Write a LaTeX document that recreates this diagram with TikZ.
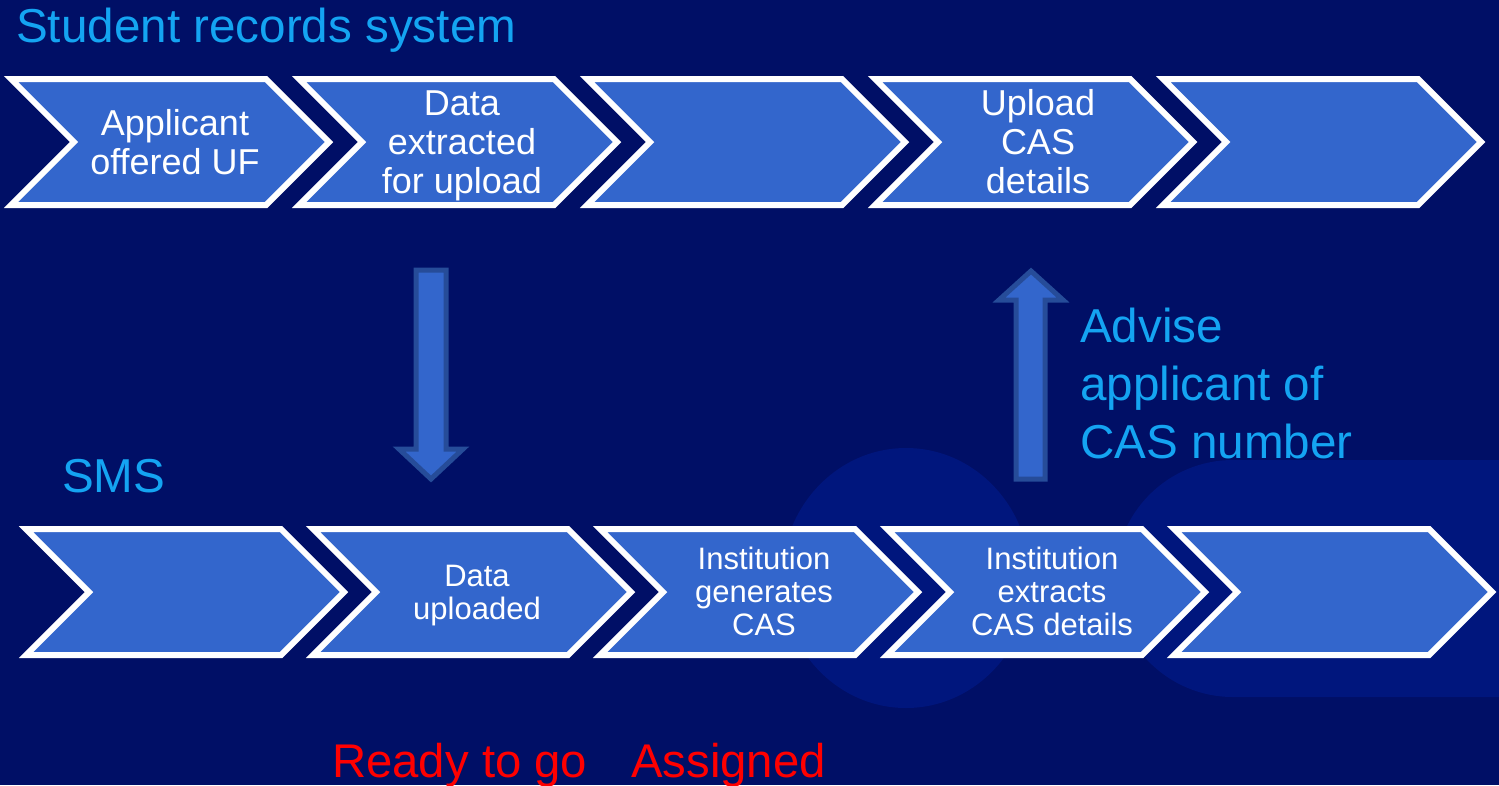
\documentclass[tikz,border=0pt]{standalone}
\usepackage{fontspec}
\setmainfont{Liberation Sans}
\definecolor{bgnavy}{RGB}{0,15,102}
\definecolor{bgshape}{RGB}{0,22,125}
\definecolor{chevfill}{RGB}{51,102,204}
\definecolor{arrowedge}{RGB}{38,76,153}
\definecolor{titleblue}{RGB}{20,164,242}
\definecolor{readyred}{RGB}{255,0,0}
\tikzset{
  chevbox/.style={fill=chevfill, draw=white, line width=6pt, line join=miter},
  blockarrow/.style={fill=chevfill, draw=arrowedge, line width=5pt, line join=miter},
  chevtext/.style={text=white, align=center, font=\fontsize{36}{39}\selectfont, inner sep=0pt},
  chevtextsmall/.style={text=white, align=center, font=\fontsize{31}{33}\selectfont, inner sep=0pt},
  heading/.style={text=titleblue, font=\fontsize{47.6}{58}\selectfont, inner sep=0pt, align=left},
  redlabel/.style={text=readyred, font=\fontsize{47.3}{58}\selectfont, inner sep=0pt}
}
\newcommand\chevshape[2]{%
  \draw[chevbox] (#1,#2) -- ++(255,0) -- ++(63,63) -- ++(-63,63) -- ++(-255,0) -- ++(63,-63) -- cycle;}
\begin{document}
\begin{tikzpicture}[x=1pt,y=-1pt]
\useasboundingbox (0,0) rectangle (1499,785);
\clip (0,0) rectangle (1499,785);
\fill[bgnavy] (0,0) rectangle (1499,785);
% background soft shapes
\fill[bgshape] (906,578) ellipse [x radius=124, y radius=130];
\fill[bgshape, rounded corners=118pt] (1115,460) rectangle (1800,697);
% top row chevrons
\foreach \i in {0,...,4} { \chevshape{11+288*\i}{79} }
% bottom row chevrons
\foreach \i in {0,...,4} { \chevshape{26+287*\i}{529} }
% block arrows
\draw[blockarrow] (416,270) -- (446,270) -- (446,449) -- (463,449) -- (431,479) -- (399,449) -- (416,449) -- cycle;
\draw[blockarrow] (1016,479) -- (1045,479) -- (1045,300) -- (1063,300) -- (1031,271) -- (999,300) -- (1016,300) -- cycle;
% texts
\node[heading, anchor=base west] (srs) at (16,42) {Student records system};
\node[heading, anchor=base west] (sms) at (62,492) {SMS};
\node[heading, anchor=west] (advise) at (1080,383) {Advise\\applicant of\\CAS number};
\node[chevtext] (t1) at (175,142) {Applicant\\offered UF};
\node[chevtext] (t2) at (462,146) {Data\\extracted\\for upload};
\node[chevtext] (t4) at (1038,142) {Upload\\CAS\\details};
\node[chevtextsmall] (b2) at (477,596) {Data\\uploaded};
\node[chevtextsmall] (b3) at (764,591) {Institution\\generates\\CAS};
\node[chevtextsmall] (b4) at (1052,591) {Institution\\extracts\\CAS details};
\node[redlabel, anchor=base west] (ready) at (332,777) {Ready to go};
\node[redlabel, anchor=base west] (assigned) at (631,777) {Assigned};
\end{tikzpicture}
\end{document}
